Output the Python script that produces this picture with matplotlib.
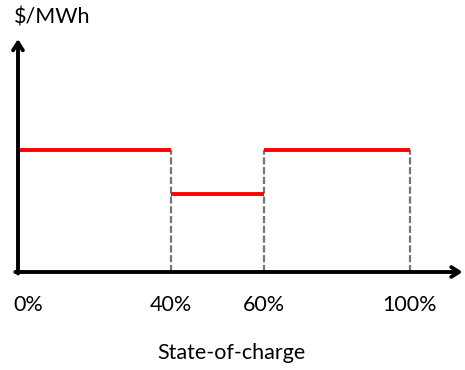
import matplotlib
matplotlib.use("Agg")
import matplotlib.pyplot as plt
import numpy as np

# state-of-charge breakpoints (%) and price level in each band (arbitrary units)
soc_edges = [0, 40, 60, 100]
price_levels = [122, 78, 122]
tick_labels = ["0%", "40%", "60%", "100%"]

# the sketch is not drawn to a linear scale: where each edge sits on the axis
_data = [-20, 0, 40, 60, 100, 130]
_draw = [-20, 0, 39, 62.8, 100, 130]


def fwd(x):
    return np.interp(x, _data, _draw)


def inv(x):
    return np.interp(x, _draw, _data)


plt.rcParams["font.family"] = ["Lato", "DejaVu Sans"]

fig = plt.figure(figsize=(4.65, 3.7), dpi=100)
ax = fig.add_axes([0, 0, 1, 1])
ax.set_xscale("function", functions=(fwd, inv))
ax.set_xlim(-18 / 3.92, (465 - 18) / 3.92)
ax.set_ylim(-98, 272)
ax.axis("off")

# axes with arrow heads
arrow = dict(arrowstyle="->,head_length=0.55,head_width=0.35", color="black",
             lw=2.8, shrinkA=0, shrinkB=0)
ax.annotate("", xy=(0, 233), xytext=(0, -1.5), arrowprops=arrow)
ax.annotate("", xy=(113.4, 0), xytext=(-0.7, 0), arrowprops=arrow)

# dashed guides at the band edges
for x in soc_edges[1:]:
    ax.plot([x, x], [0, max(price_levels)], color="#767676", lw=1.6,
            ls=(0, (3.2, 1.2)), zorder=1)

# red price bands
for i, p in enumerate(price_levels):
    ax.plot([soc_edges[i], soc_edges[i + 1]], [p, p], color="#ff0000", lw=2.8,
            solid_capstyle="butt", zorder=2)

for x, lab in zip(soc_edges, tick_labels):
    xx = x + 2.6 if x == 0 else x
    ax.text(xx, -33, lab, ha="center", va="center", fontsize=15.5)

ax.text(53, -81, "State-of-charge", ha="center", va="center", fontsize=15.5)
ax.text(-1.1, 254, "$/MWh", ha="left", va="center", fontsize=15.5)

fig.savefig("out.png", dpi=100)
